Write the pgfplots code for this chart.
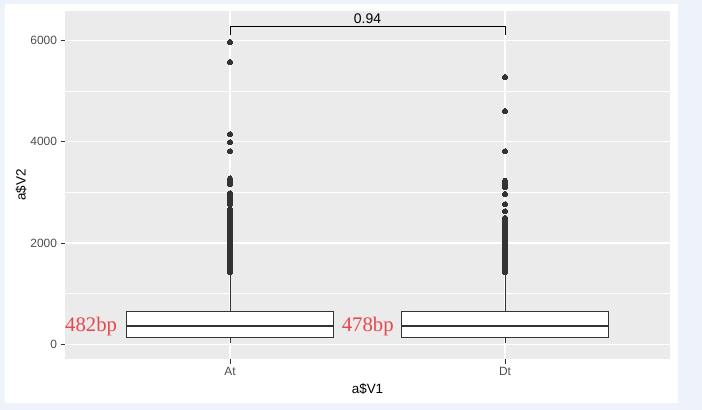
\documentclass[border=0pt]{standalone}
\usepackage{fontspec}
\setmainfont{Liberation Sans}
\newfontfamily\labelserif{Liberation Serif}
\usepackage{pgfplots}
\pgfplotsset{compat=1.18}
\definecolor{panelgrey}{HTML}{EBEBEB}
\definecolor{ink}{HTML}{333333}
\definecolor{ticktext}{HTML}{4D4D4D}
\definecolor{pagebg}{HTML}{EEF2FB}
\definecolor{labelred}{HTML}{E5484D}

\begin{document}
\begin{tikzpicture}
\fill[pagebg] (0,0) rectangle (702bp,410bp);
\fill[white] (5bp,7bp) rectangle (678bp,406bp);
\begin{axis}[
    at={(65bp,51bp)}, anchor=south west,
    width=605bp, height=348bp, scale only axis,
    xmin=0.4, xmax=2.6, ymin=-290, ymax=6583,
    xtick={1,2}, xticklabels={At,Dt},
    ytick={0,2000,4000,6000}, yticklabels={0,2000,4000,6000},
    minor ytick={1000,3000,5000},
    tick pos=left, tick align=outside,
    major tick length=4.5bp,
    major tick style={draw=ink, line width=1bp},
    minor tick style={draw=none},
    axis line style={draw=none},
    axis background/.style={fill=panelgrey},
    xmajorgrids, ymajorgrids, yminorgrids,
    major grid style={white, line width=1.1bp},
    minor grid style={white, line width=0.55bp},
    tick label style={font=\fontsize{12}{14}\selectfont, text=ticktext},
    label style={font=\fontsize{13.5}{16}\selectfont, text=black},
    xlabel={a\$V1}, ylabel={a\$V2},
    xlabel style={at={(axis description cs:0.5,-0.0862)}, anchor=center},
    ylabel style={at={(axis description cs:-0.0727,0.5)}, anchor=center},
    clip=false,
  ]
  % whiskers
  \addplot[ink, line width=1bp] coordinates {(1,30) (1,1410)};
  \addplot[ink, line width=1bp] coordinates {(2,30) (2,1410)};
  % boxes (Q1 138, Q3 644)
  \addplot[draw=ink, line width=1bp, fill=white]
    coordinates {(0.625,138) (1.375,138) (1.375,644) (0.625,644)} -- cycle;
  \addplot[draw=ink, line width=1bp, fill=white]
    coordinates {(1.625,138) (2.375,138) (2.375,644) (1.625,644)} -- cycle;
  % medians
  \addplot[ink, line width=2.4bp] coordinates {(0.625,362) (1.375,362)};
  \addplot[ink, line width=2.4bp] coordinates {(1.625,362) (2.375,362)};
  % outliers
  \addplot[only marks, mark=*, mark size=2.6bp, mark options={fill=ink, draw=ink, line width=0pt}]
    coordinates {(1,5968) (1,5573) (1,4150) (1,3992) (1,3814) (1,3273) (1,3220) (1,3162)
      (1,2984) (1,2930) (1,2880) (1,2830) (1,2773) (1,2668) (1,2620) (1,2570) (1,2520)
      (1,2470) (1,2420) (1,2391) (1,2358) (1,2320) (1,2280) (1,2240) (1,2200) (1,2160)
      (1,2120) (1,2080) (1,2040) (1,2000) (1,1960) (1,1920) (1,1880) (1,1840) (1,1800)
      (1,1760) (1,1720) (1,1680) (1,1640) (1,1600) (1,1560) (1,1520) (1,1480) (1,1440) (1,1425)};
  \addplot[only marks, mark=*, mark size=2.6bp, mark options={fill=ink, draw=ink, line width=0pt}]
    coordinates {(2,5277) (2,4605) (2,3814) (2,3233) (2,3170) (2,3103) (2,2970) (2,2767)
      (2,2628) (2,2496) (2,2440) (2,2391) (2,2344) (2,2290) (2,2250) (2,2206) (2,2160)
      (2,2095) (2,2055) (2,2015) (2,1975) (2,1935) (2,1895) (2,1855) (2,1815) (2,1775)
      (2,1735) (2,1695) (2,1655) (2,1615) (2,1575) (2,1535) (2,1495) (2,1455) (2,1425)};
  % significance bracket
  \addplot[black, line width=1bp] coordinates {(1,6112) (1,6270) (2,6270) (2,6112)};
  \node[font=\fontsize{14}{16}\selectfont, inner sep=0pt] at (axis cs:1.5,6427) {0.94};
  \node[text=labelred, font=\labelserif\fontsize{20.8}{24}\selectfont, inner sep=0pt]
    at (axis cs:0.495,350) {482bp};
  \node[text=labelred, font=\labelserif\fontsize{20.8}{24}\selectfont, inner sep=0pt]
    at (axis cs:1.501,350) {478bp};
\end{axis}
\pgfresetboundingbox
\useasboundingbox (0,0) rectangle (702bp,410bp);
\end{tikzpicture}
\end{document}
